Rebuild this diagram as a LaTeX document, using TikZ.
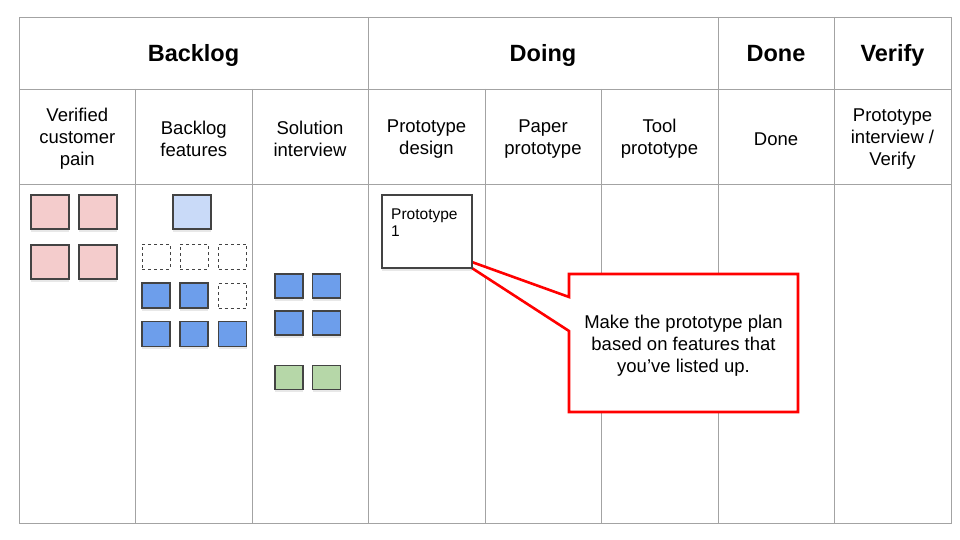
\documentclass[tikz,border=0pt]{standalone}
\usepackage{fontspec}
\setmainfont{Liberation Sans}
\usetikzlibrary{shadows}
\definecolor{gridgray}{HTML}{A3A3A3}
\definecolor{cardedge}{HTML}{434343}
\definecolor{pinkc}{HTML}{F4CCCC}
\definecolor{lblue}{HTML}{C9DAF8}
\definecolor{bluec}{HTML}{6D9EEB}
\definecolor{greenc}{HTML}{B6D7A8}
\definecolor{calloutred}{HTML}{FF0000}
\tikzset{
  gridline/.style={draw=gridgray, line width=0.9pt},
  head/.style={font=\bfseries\fontsize{23.5}{27}\selectfont, inner sep=0pt, anchor=base},
  subhead/.style={font=\fontsize{18.5}{22}\selectfont, align=center, inner sep=0pt},
  card/.style={draw=cardedge, line width=1.2pt, inner sep=0pt,
    drop shadow={shadow xshift=0.4pt, shadow yshift=-2.5pt, opacity=0.18}},
  bigcard/.style={card, minimum width=38pt, minimum height=34pt},
  smallcard/.style={card, minimum width=28pt, minimum height=25pt},
  emptycard/.style={draw=cardedge, dashed, line width=0.9pt, inner sep=0pt,
    minimum width=28pt, minimum height=25pt},
  callout/.style={draw=calloutred, line width=2.6pt, fill=white, line join=miter},
}
\begin{document}
\begin{tikzpicture}[x=1pt, y=-1pt]
\useasboundingbox (0,0) rectangle (960,540);
\fill[white] (0,0) rectangle (960,540);
% grid
\draw[gridline] (19,17) rectangle (951,523);
\draw[gridline] (19,89) -- (951,89);
\draw[gridline] (19,184) -- (951,184);
\foreach \x in {368,718,834} \draw[gridline] (\x,17) -- (\x,523);
\foreach \x in {135.5,252,485,601} \draw[gridline] (\x,89) -- (\x,523);
% headers
\node[head] (hbacklog) at (193.5,62) {Backlog};
\node[head] (hdoing) at (543,62) {Doing};
\node[head] (hdone) at (776,62) {Done};
\node[head] (hverify) at (892.5,62) {Verify};
\node[subhead] (s1) at (77.3,139) {Verified\\customer\\pain};
\node[subhead] (s2) at (193.8,139) {Backlog\\features};
\node[subhead] (s3) at (310,139) {Solution\\interview};
\node[subhead] (s4) at (426.5,139) {Prototype\\design};
\node[subhead] (s5) at (543,139) {Paper\\prototype};
\node[subhead] (s6) at (659.5,139) {Tool\\prototype};
\node[subhead] (s7) at (776,139) {Done};
\node[subhead] (s8) at (892.5,139) {Prototype\\interview /\\Verify};
% verified customer pain
\node[bigcard, fill=pinkc] (p1) at (50,212) {};
\node[bigcard, fill=pinkc] (p2) at (98,212) {};
\node[bigcard, fill=pinkc] (p3) at (50,262) {};
\node[bigcard, fill=pinkc] (p4) at (98,262) {};
% backlog features
\node[bigcard, fill=lblue] (f0) at (192,212) {};
\node[emptycard] (e1) at (156,256.5) {};
\node[emptycard] (e2) at (194,256.5) {};
\node[emptycard] (e3) at (232.5,256.5) {};
\node[smallcard, fill=bluec] (f1) at (156,295.5) {};
\node[smallcard, fill=bluec] (f2) at (194,295.5) {};
\node[emptycard] (e4) at (232.5,295.5) {};
\node[smallcard, fill=bluec] (f3) at (156,334) {};
\node[smallcard, fill=bluec] (f4) at (194,334) {};
\node[smallcard, fill=bluec] (f5) at (232.5,334) {};
% solution interview
\node[smallcard, fill=bluec, minimum height=24pt] (i1) at (289,286) {};
\node[smallcard, fill=bluec, minimum height=24pt] (i2) at (326.5,286) {};
\node[smallcard, fill=bluec, minimum height=24pt] (i3) at (289,323) {};
\node[smallcard, fill=bluec, minimum height=24pt] (i4) at (326.5,323) {};
\node[smallcard, fill=greenc, minimum height=24pt] (g1) at (289,377.5) {};
\node[smallcard, fill=greenc, minimum height=24pt] (g2) at (326.5,377.5) {};
% callout (tip hidden under the card)
\coordinate (tip) at (451,254.5);
\draw[callout] (569,274) -- (798,274) -- (798,412) -- (569,412) -- (569,331)
  -- (tip) -- (569,297) -- cycle;
\node[subhead] (note) at (683.5,346) {Make the prototype plan\\based on features that\\you’ve listed up.};
% prototype card
\node[card, fill=white, minimum width=90pt, minimum height=73pt] (proto) at (427,231.5) {};
\node[anchor=north west, inner sep=0pt, align=left,
  font=\fontsize{15.5}{17}\selectfont] (prototext) at (391,208.5) {Prototype\\1};
\end{tikzpicture}
\end{document}
